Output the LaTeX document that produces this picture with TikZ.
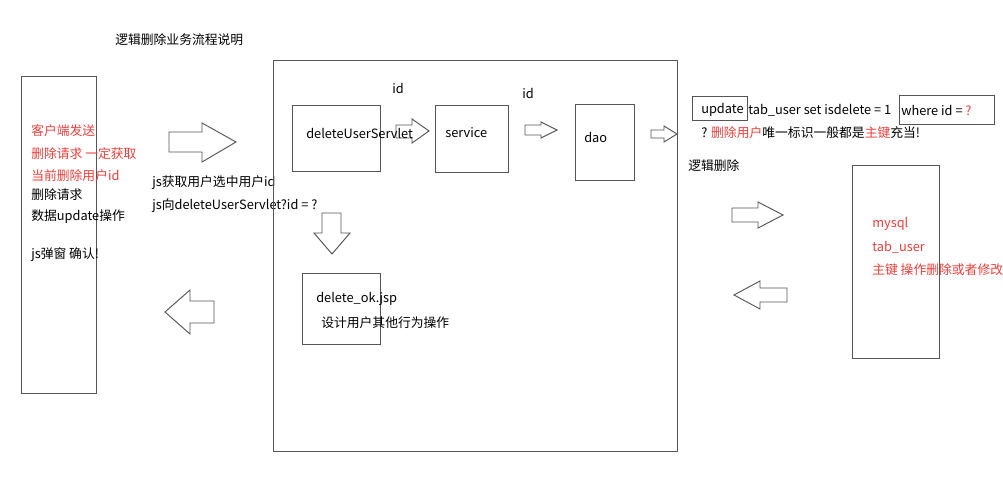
\documentclass[tikz,border=0pt]{standalone}
\usepackage{fontspec}
\setmainfont{Noto Sans CJK SC}
\definecolor{redtxt}{RGB}{232,65,60}
\definecolor{linegray}{RGB}{85,85,85}
\begin{document}
\begin{tikzpicture}[x=0.75pt,y=-0.75pt,
  box/.style={draw=linegray,line width=0.75pt},
  barrow/.style={draw=linegray,line width=0.7pt,fill=white,line join=miter},
  txt/.style={anchor=west,inner sep=0pt,font=\fontsize{9.6pt}{11pt}\selectfont},
  rtxt/.style={txt,text=redtxt}]
\useasboundingbox[fill=white] (0,0) rectangle (1003,503);
% title
\node[txt] (title) at (115,40) {逻辑删除业务流程说明};
% left client box
\draw[box] (21,77) rectangle (96,393);
\node[rtxt] (c1) at (31,131) {客户端发送};
\node[rtxt] (c2) at (31,154) {删除请求 一定获取};
\node[rtxt] (c3) at (31,176) {当前删除用户id};
\node[txt] (c4) at (31,195) {删除请求};
\node[txt] (c5) at (31,217) {数据update操作};
\node[txt] (c6) at (31,255) {js弹窗 确认!};
% arrows between client and server
\draw[barrow] (169,132) -- (202,132) -- (202,123) -- (236,142) -- (202,162) -- (202,152) -- (169,152) -- cycle;
\draw[barrow] (214,301) -- (190,301) -- (190,290) -- (165,312) -- (190,334) -- (190,323) -- (214,323) -- cycle;
\node[txt] (js1) at (152,183) {js获取用户选中用户id};
\node[txt] (js2) at (152,206) {js向deleteUserServlet?id = ?};
% big server box
\draw[box] (273,61) rectangle (677,451);
% servlet
\draw[box] (292,106) rectangle (380,171);
\draw[barrow] (396,125) -- (412,125) -- (412,119) -- (429,131) -- (412,143) -- (412,138) -- (396,138) -- cycle;
\node[txt] (servlet) at (306,133) {deleteUserServlet};
\node[txt] (id1) at (392,88) {id};
% service
\draw[box] (435,106) rectangle (508,172);
\node[txt] (service) at (445,133) {service};
\draw[barrow] (525,125) -- (541,125) -- (541,122) -- (557,130) -- (541,138) -- (541,135) -- (525,135) -- cycle;
\node[txt] (id2) at (522,93) {id};
% dao
\draw[box] (575,105) rectangle (634,180);
\node[txt] (dao) at (584,137) {dao};
\draw[barrow] (651,130) -- (664,130) -- (664,126) -- (677,134) -- (664,142) -- (664,138) -- (651,138) -- cycle;
% down arrow and delete_ok
\draw[barrow] (322,213) -- (341,213) -- (341,233) -- (350,233) -- (332,254) -- (314,233) -- (322,233) -- cycle;
\draw[box] (302,273) rectangle (380,344);
\node[txt] (okjsp) at (316,299) {delete\_ok.jsp};
\node[txt] (okdesc) at (321,323) {设计用户其他行为操作};
% SQL statement
\draw[box] (692,97) rectangle (747,120);
\node[txt] (upd) at (701,110) {update};
\node[txt] (sql) at (748,110) {tab\_user set isdelete = 1};
\draw[box] (899,96) rectangle (994,124);
\node[txt] (where) at (901,110) {where id = \textcolor{redtxt}{?}};
\node[txt] (note) at (701,133) {? \textcolor{redtxt}{删除用户}唯一标识一般都是\textcolor{redtxt}{主键}充当!};
\node[txt] (logic) at (688,166) {逻辑删除};
% arrows to/from mysql
\draw[barrow] (732,208) -- (758,208) -- (758,202) -- (783,215) -- (758,228) -- (758,222) -- (732,222) -- cycle;
\draw[barrow] (787,288) -- (760,288) -- (760,281) -- (734,295) -- (760,309) -- (760,302) -- (787,302) -- cycle;
% mysql box
\draw[box] (852,165) rectangle (939,358);
\node[rtxt] (m1) at (872,224) {mysql};
\node[rtxt] (m2) at (872,247) {tab\_user};
\node[rtxt] (m3) at (872,270) {主键 操作删除或者修改};
\end{tikzpicture}
\end{document}
